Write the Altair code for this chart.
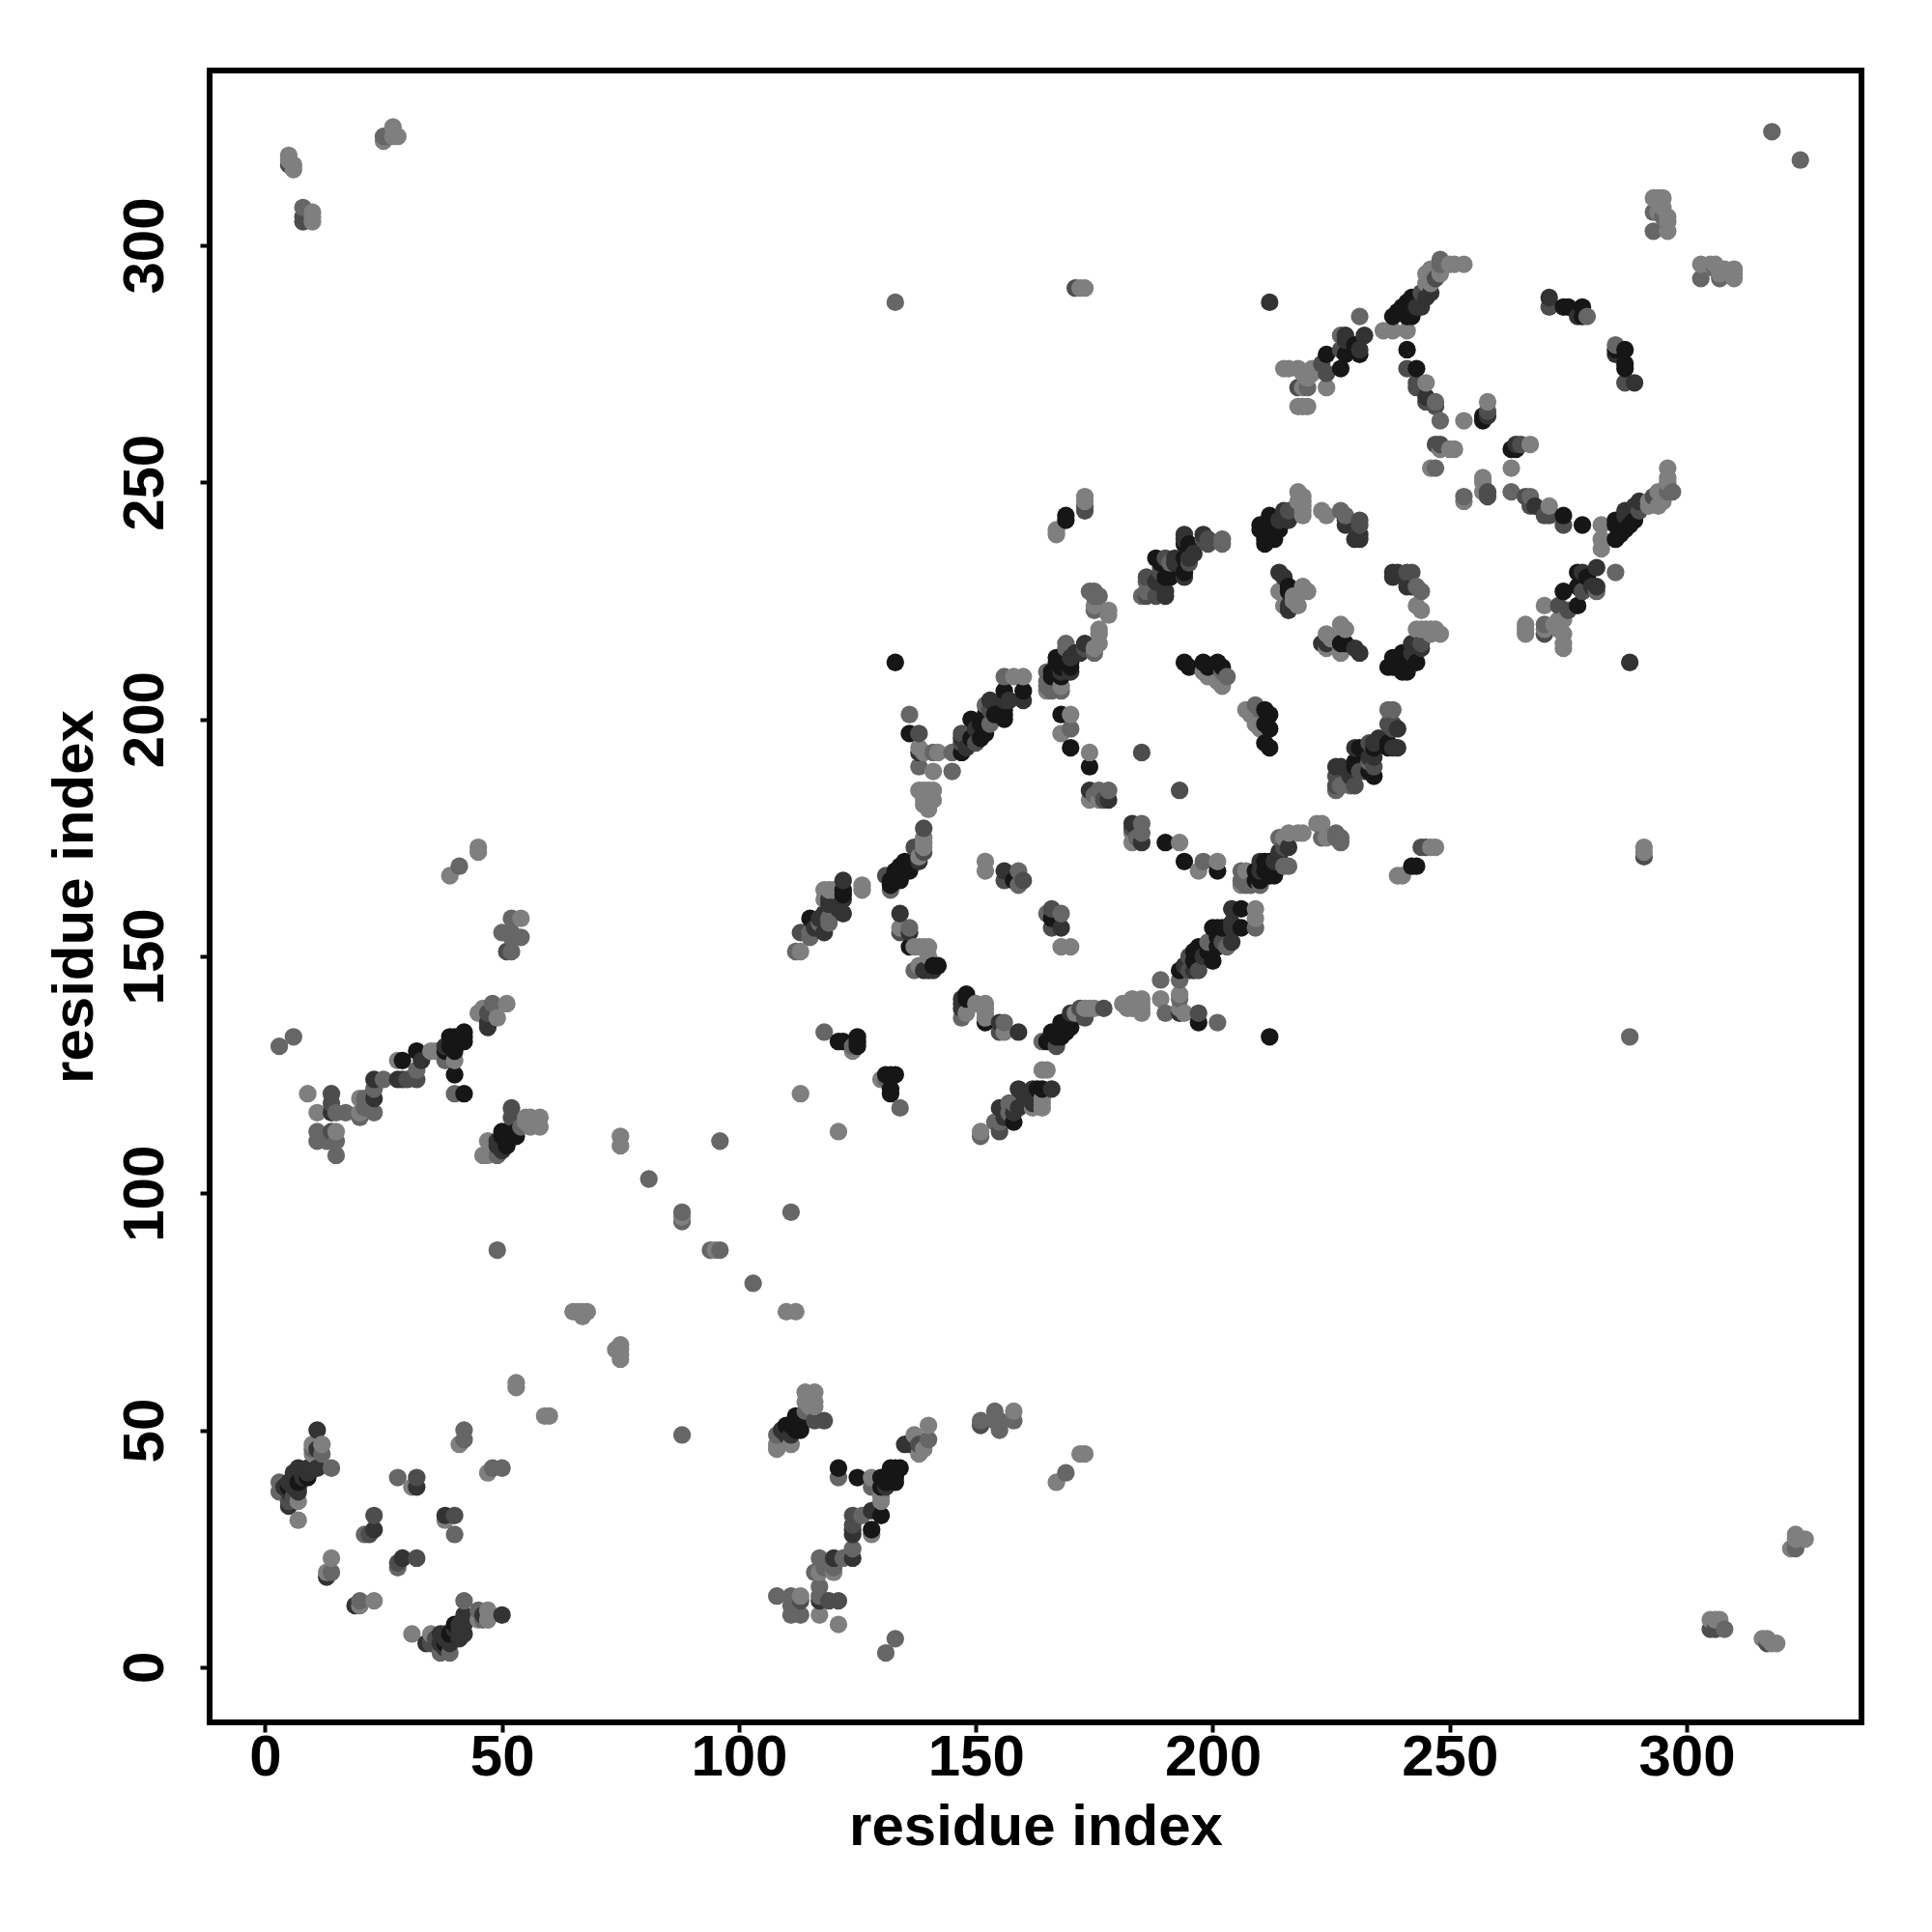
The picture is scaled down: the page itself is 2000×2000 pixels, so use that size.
import altair as alt
import pandas as pd

tick_values = [0, 50, 100, 150, 200, 250, 300]
axis_title = "residue index"

shade_values = {"K": "#161616", "D": "#333333", "M": "#4d4d4d", "G": "#666666", "L": "#7f7f7f"}

contacts_K = [(133,212),(42,134),(42,133),(41,132),(39,133),(40,130),(38,130),(40,125),(42,121),(32,130),(29,128),
 (53,113),(51,113),(50,113),(51,111),(9,40),(39,7),(38,5),(53,112),(51,110),(50,112),(42,132),(40,133),(39,131),
 (122,164),(115,158),(136,152),(142,148),(141,148),(158,166),(166,158),(148,142),(152,136),(121,132),(122,132),(125,132),(125,131),
 (132,125),(133,125),(132,122),(132,121),(158,115),(163,122),(166,132),(165,132),(166,134),(169,134),(167,133),(168,136),
 (197,136),(212,133),(193,147),(196,149),(200,149),(197,152),(201,152),(200,156),(202,156),(206,156),(206,160),
 (194,170),(201,168),(210,167),(212,167),(211,170),(169,242),(168,211),(167,212),(166,210),(166,209),(168,209),
 (160,206),(156,206),(156,201),(149,200),(152,197),(147,193),(151,199),(154,201),(151,196),(136,197),(134,169),(136,169),
 (134,167),(133,168),(135,170),(132,166),(168,201),(170,194),(174,190),(190,174),(195,237),(189,233),(191,230),
 (213,242),(211,240),(213,238),(211,237),(214,240),(211,239),(216,227),(243,212),(238,211),(241,210),(240,212),(240,210),
 (228,216),(195,211),(199,211),(202,211),(212,201),(212,198),(212,194),(237,194),(231,194),(234,194),(230,190),(234,188),
 (212,170),(213,167),(243,169),(242,289),(240,287),(238,285),(241,285),(239,286),(228,277),(227,274),(230,279),
 (274,287),(275,287),(278,287),(278,285),(287,278),(287,275),(287,274),(241,278),(243,274),(257,263),(264,257),(274,243),(278,241),
 (285,242),(288,241),(285,238),(287,241),(286,240),(277,231),(274,227),(277,224)]

contacts_D = [(47,136),(38,131),(33,128),(23,124),(23,120),(14,117),(11,50),(11,46),(11,42),(9,42),(7,42),(8,41),(6,41),(5,39),
 (7,37),(6,38),(4,38),(32,38),(23,29),(13,19),(42,11),(40,9),(34,5),(37,5),(39,6),(38,7),(41,9),(42,10),(40,8),
 (49,111),(50,109),(49,110),(47,135),(28,124),(29,124),(122,162),(119,162),(118,155),(117,158),(116,156),(134,159),(140,147),
 (156,168),(168,156),(147,141),(147,139),(155,136),(159,134),(166,122),(159,122),(159,118),(155,118),(160,121),(161,119),
 (169,136),(193,138),(196,147),(198,150),(204,153),(204,156),(204,160),(213,170),(173,216),(171,214),(170,212),
 (160,204),(157,204),(153,204),(148,194),(138,170),(178,183),(185,174),(194,238),(196,235),(192,233),(194,230),(188,229),(190,226),
 (228,241),(231,238),(230,238),(216,242),(215,230),(216,223),(239,231),(242,228),(244,215),(242,214),(224,216),(231,214),
 (239,198),(239,194),(234,195),(234,192),(227,190),(210,168),(210,170),(214,172),(245,289),(243,287),(232,281),(228,280),(231,278),(224,277),
 (212,288),(271,289),(285,277),(289,271),(245,268),(258,264),(287,244),(290,246),(281,232),(281,228)]

contacts_M = [(5,317),(8,306),(305,8),(51,151),(47,138),(28,124),(30,124),(32,124),(14,121),(14,119),(14,113),(52,118),(52,116),(49,110),
 (5,35),(32,40),(23,32),(22,28),(36,6),(50,11),(122,159),(134,155),(139,147),(156,166),(166,160),(166,156),(171,291),
 (155,113),(164,122),(162,122),(177,139),(197,138),(195,150),(197,147),(173,244),(153,202),(149,196),(147,195),(138,197),(137,173),(139,172),(131,167),
 (185,193),(174,185),(183,177),(198,238),(199,237),(195,233),(186,226),(188,226),(189,231),(216,244),(231,241),(242,231),(242,216),
 (238,199),(234,190),(230,186),(232,189),(216,173),(215,173),(245,173),(247,293),(244,290),(224,273),(223,275),(271,287),(287,271),
 (241,274),(243,271),(247,258),(265,258),(258,248),(258,247),(266,247),(267,245),(270,243),(274,241),(289,245),(278,227),(273,224),(270,218)]

contacts_G = [(8,308),(25,323),(26,323),(318,324),(293,307),(295,306),(293,303),(133,288),(41,169),(52,158),(52,155),(52,154),(48,140),
 (38,128),(32,126),(40,121),(23,122),(23,117),(21,120),(17,117),(15,117),(11,113),(11,111),(15,111),(13,111),(15,108),(6,133),(3,131),
 (54,114),(49,108),(12,45),(14,42),(3,39),(3,37),(28,40),(42,50),(42,48),(21,28),(14,20),(46,10),(37,3),(39,3),(81,103),(88,96),(96,111),(49,88),
 (151,52),(155,52),(154,54),(155,50),(158,52),(121,40),(128,38),(124,32),(124,25),(120,23),(117,23),(120,21),(116,20),(118,21),(117,17),(117,14),(121,14),(119,14),(131,3),(133,6),(121,42),
 (122,166),(119,158),(113,155),(115,155),(112,151),(136,156),(159,168),(159,165),(160,166),(165,159),(168,159),(147,137),(156,136),(118,134),(131,124),(134,118),
 (157,119),(155,115),(154,115),(157,117),(164,132),(170,138),(189,145),(193,145),(193,141),(190,138),(199,153),(203,152),(209,156),(198,170),(206,168),(206,166),(215,169),
 (175,226),(176,226),(175,223),(175,214),(169,215),(165,210),(165,208),(156,209),(147,197),(145,189),(136,201),(132,165),(170,198),(178,185),(175,184),(185,178),(185,176),
 (202,237),(191,233),(186,229),(185,226),(228,243),(244,227),(203,209),(210,202),(238,202),(229,188),(227,186),(227,175),(227,174),(216,169),(210,166),(207,165),
 (231,285),(227,281),(218,270),(248,297),(285,279),(247,267),(248,263),(253,247),(285,231),(296,248),(270,220),(88,94)]

contacts_L = [(5,319),(6,317),(10,306),(10,307),(27,325),(28,323),(27,323),(25,322),(293,310),(295,310),(294,310),(296,305),(296,303),(296,306),(294,307),(295,308),
 (172,291),(173,291),(305,10),(306,10),(316,6),(317,5),(318,5),(323,25),(323,27),(325,27),(323,28),
 (45,173),(45,172),(39,167),(54,158),(50,155),(54,154),(52,151),(51,140),(46,139),(45,138),(49,137),(40,128),(36,130),(35,130),(28,128),(25,124),(20,120),(20,116),(20,117),
 (11,117),(9,121),(15,113),(58,116),(55,116),(58,114),(56,114),(56,116),(55,115),(47,111),(47,108),(46,108),(53,60),(53,59),
 (10,47),(12,47),(10,45),(7,35),(7,31),(31,38),(41,47),(14,23),(13,20),(47,12),(45,12),(45,10),(47,10),(35,7),
 (75,112),(75,110),(88,95),(65,75),(66,75),(67,75),(67,74),(68,75),(111,96),(113,121),(121,113),
 (126,165),(126,164),(118,164),(120,164),(118,162),(113,151),(134,156),(138,152),(140,152),(137,152),(140,150),(137,147),(138,148),
 (152,170),(152,168),(168,152),(170,152),(152,140),(152,139),(152,137),(156,134),(124,130),(165,126),(164,126),(164,119),(162,119),(164,118),(151,113),(151,112),
 (173,139),(171,138),(174,139),(181,140),(183,140),(185,140),(185,138),(182,139),(189,141),(194,138),(201,136),(209,160),(209,158),(201,170),(197,168),(208,165),
 (173,246),(167,240),(167,239),(178,222),(176,218),(176,216),(165,206),(168,206),(160,209),(158,209),(145,193),(139,193),(141,193),(138,190),(141,189),(142,193),
 (139,185),(141,185),(139,183),(140,181),(141,183),(139,177),(139,175),(170,201),(168,197),(174,193),(176,185),(174,183),(176,183),(193,174),
 (219,247),(219,245),(219,243),(218,246),(224,243),(215,227),(220,227),(218,224),(217,225),(244,223),(244,219),(247,219),(248,218),(246,219),
 (224,218),(228,219),(227,214),(224,215),(226,217),(199,209),(202,207),(208,201),(210,198),(223,178),(224,175),(219,176),(216,176),(215,175),(207,168),(247,173),(240,167),
 (253,296),(250,296),(246,295),(248,294),(245,294),(245,292),(246,292),(236,282),(238,282),(241,282),(215,274),(218,274),(221,274),(219,270),(224,270),(218,266),(220,266),(220,272),
 (279,285),(245,271),(253,263),(258,267),(250,257),(248,257),(247,253),(267,258),(263,253),(257,251),(253,246),(263,248),(271,245),
 (296,253),(296,251),(294,248),(292,246),(282,241),(282,238),(282,236),(270,224),(266,219),(273,219),(274,216),(266,218),(273,221)]

groups = [("K", contacts_K), ("D", contacts_D), ("M", contacts_M), ("G", contacts_G), ("L", contacts_L)]
seen = {}
for name, pairs in groups:
    for a, b in pairs:
        seen.setdefault((min(a, b), max(a, b)), shade_values[name])
rows = []
for (a, b), c in seen.items():
    rows.append({"x": a, "y": b, "c": c})
    rows.append({"x": b, "y": a, "c": c})
df = pd.DataFrame(rows).sort_values(["x", "y"]).reset_index(drop=True)

FONT = "Liberation Sans"
points = alt.Chart(df).mark_circle(size=335, opacity=1).encode(
    x=alt.X("x:Q", scale=alt.Scale(domain=[-11.7, 336.9], nice=False, zero=False),
            axis=alt.Axis(values=tick_values, title=axis_title, grid=False, domain=False, tickColor="black",
                          tickWidth=4, tickSize=10, labelFontSize=60, labelFontWeight="bold", labelFont=FONT,
                          labelColor="black", titleFontSize=60, titleFontWeight="bold", titleFont=FONT,
                          titleColor="black", labelPadding=-3, titlePadding=13, labelFlush=False, labelOverlap=False)),
    y=alt.Y("y:Q", scale=alt.Scale(domain=[-11.66, 336.9], nice=False, zero=False),
            axis=alt.Axis(values=tick_values, title=axis_title, grid=False, domain=False, tickColor="black",
                          tickWidth=4, tickSize=10, labelFontSize=60, labelFontWeight="bold", labelFont=FONT,
                          labelColor="black", labelAngle=270, labelAlign="center", labelBaseline="bottom",
                          titleFontSize=60, titleFontWeight="bold", titleFont=FONT, titleColor="black",
                          labelPadding=26, titlePadding=12, labelFlush=False, labelOverlap=False)),
    color=alt.Color("c:N", scale=None),
)

chart = points.properties(
    width=1710, height=1710,
    autosize=alt.AutoSizeParams(type="none"),
    padding={"left": 209, "top": 65, "right": 60, "bottom": 200},
    background="white",
).configure_view(stroke="black", strokeWidth=6, fill="white")

chart.save("out.html", embed_options={"renderer": "svg", "actions": False})
